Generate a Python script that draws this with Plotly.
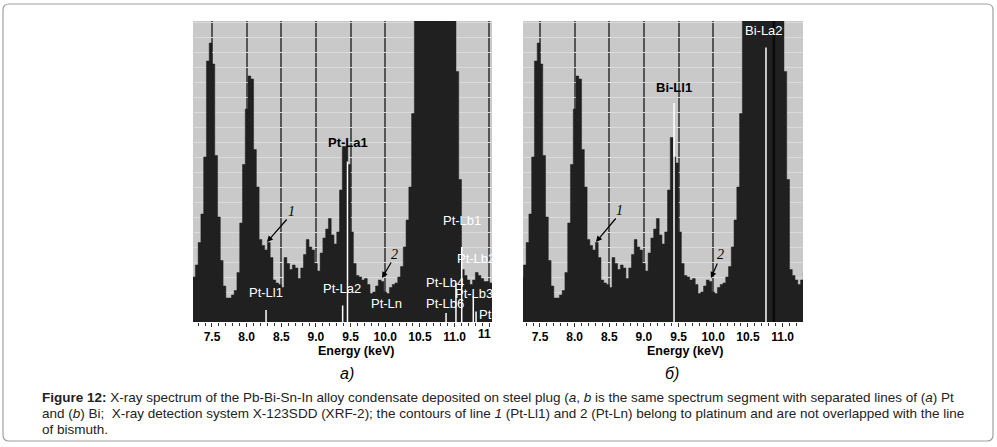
import plotly.graph_objects as go

# ---------------- data ----------------
# channel calibration of the displayed spectrum segment
channel_start_kev = 7.22
channel_width_kev = 0.04

# relative intensity (grid units, 20 = top of the display) per channel, panel б (Bi)
counts_b = [3.0, 3.8, 5.3, 7.2, 11.0, 17.4, 18.6, 17.2, 11.1, 7.0,
            4.1, 2.4, 1.6, 1.6, 1.8, 2.1, 3.3, 6.6, 10.5, 14.2,
            16.4, 16.2, 11.5, 9.0, 5.5, 5.1, 4.8, 5.3, 4.3, 2.8,
            2.6, 2.5, 2.3, 4.3, 3.9, 3.5, 3.8, 3.6, 2.9, 3.6,
            4.5, 5.5, 5.0, 4.8, 3.9, 3.4, 4.6, 5.6, 6.2, 6.9,
            5.8, 5.2, 6.0, 8.8, 12.3, 11.0, 10.6, 6.0, 3.9, 3.1,
            3.0, 2.8, 2.9, 2.5, 1.9, 2.0, 2.4, 2.8, 2.7, 2.0,
            1.9, 2.3, 2.5, 2.6, 3.0, 3.7, 5.0, 6.8, 9.0, 13.9,
            30, 30, 30, 30, 30, 30, 30, 30, 30, 30,
            30, 30, 30, 30, 30, 16.7, 9.5, 3.5, 3.1, 2.8,
            2.5, 2.8, 3.3, 3.1, 2.9, 2.7, 2.7, 2.6]

# panel а (Pt) — same segment, Pt-La1 peak drawn lower
counts_a = [3.0, 3.8, 5.3, 7.2, 11.0, 17.4, 18.6, 17.2, 11.1, 7.0,
            4.1, 2.4, 1.6, 1.6, 1.8, 2.1, 3.3, 6.6, 10.5, 14.2,
            16.4, 16.2, 11.5, 9.0, 5.5, 5.1, 4.8, 5.3, 4.3, 2.8,
            2.6, 2.5, 2.3, 4.3, 3.9, 3.5, 3.8, 3.6, 2.9, 3.6,
            4.5, 5.5, 5.0, 4.8, 3.9, 3.4, 4.6, 5.6, 6.2, 6.9,
            5.8, 5.2, 6.0, 8.8, 11.7, 11.7, 10.5, 6.0, 3.9, 3.1,
            3.0, 2.8, 2.9, 2.5, 1.9, 2.0, 2.4, 2.8, 2.7, 2.0,
            1.9, 2.3, 2.5, 2.6, 3.0, 3.7, 5.0, 6.8, 9.0, 13.9,
            30, 30, 30, 30, 30, 30, 30, 30, 30, 30,
            30, 30, 30, 30, 30, 16.7, 9.5, 3.5, 3.1, 2.8,
            2.5, 2.8, 3.3, 3.1, 2.9, 2.7, 2.7, 2.6]

tick_values = [7.5, 8.0, 8.5, 9.0, 9.5, 10.0, 10.5, 11.0]
tick_labels = ["7.5", "8.0", "8.5", "9.0", "9.5", "10.0", "10.5", "11.0"]

# line markers: (label, energy keV, marker height)
markers_a = [("Pt-Ll1", 8.28, 0.8), ("Pt-La2", 9.385, 1.1), ("Pt-La1", 9.455, 10.7),
             ("Pt-Lb6", 10.877, 0.6), ("Pt-Lb4", 11.02, 2.6), ("Pt-Lb1", 11.103, 5.0),
             ("Pt-Lb3", 11.27, 1.7), ("Pt-Lb2", 11.31, 0.7)]
markers_b = [("Bi-Ll1", 9.434, 14.6), ("Bi-La2", 10.761, 18.3)]

# ---------------- layout helpers ----------------
W, H = 997, 447


def px(x):
    return x / W


def py(y):
    return 1 - y / H


def step_xy(counts):
    edges = [round(channel_start_kev + channel_width_kev * i, 4) for i in range(len(counts) + 1)]
    return edges, list(counts) + [counts[-1]]


SPEC = "#202020"
BG = "#c9c9c9"
FONT = "Liberation Sans"

fig = go.Figure()
for counts, xa, ya in [(counts_a, "x", "y"), (counts_b, "x2", "y2")]:
    xs, ys = step_xy(counts)
    fig.add_trace(go.Scatter(x=xs, y=ys, xaxis=xa, yaxis=ya, mode="lines",
                             line=dict(shape="hv", color=SPEC, width=0.5),
                             fill="tozeroy", fillcolor=SPEC, hoverinfo="skip"))

ydom = [py(322), py(21)]
common_x = dict(showgrid=True, gridcolor="#555555", gridwidth=2, zeroline=False,
                showline=False, ticks="outside", ticklen=4, tickwidth=1, tickcolor="#333",
                tickfont=dict(family=FONT, size=12, color="black", weight="bold"),
                minor=dict(tickmode="linear", tick0=7.5, dtick=0.1, ticks="outside",
                           ticklen=3, tickcolor="#333", showgrid=False),
                tickmode="array", fixedrange=True)
common_y = dict(domain=ydom, range=[0, 20.07], showgrid=True, gridcolor="#dadada",
                gridwidth=1, dtick=1, tick0=0, showticklabels=False, zeroline=False,
                ticks="", fixedrange=True)

fig.update_layout(
    width=W, height=H, margin=dict(l=0, r=0, t=0, b=0),
    paper_bgcolor="white", plot_bgcolor=BG, showlegend=False,
    xaxis=dict(domain=[px(193), px(492)], range=[7.226, 11.54], anchor="y",
               tickvals=tick_values + [11.5], ticktext=tick_labels + [""], **common_x),
    yaxis=dict(anchor="x", **common_y),
    xaxis2=dict(domain=[px(523), px(803)], range=[7.255, 11.295], anchor="y2",
                tickvals=tick_values, ticktext=tick_labels, **common_x),
    yaxis2=dict(anchor="x2", **common_y),
)

# white marker lines
for name, e, h in markers_a:
    fig.add_shape(type="line", xref="x", yref="y", x0=e, x1=e, y0=0, y1=h,
                  line=dict(color="white", width=1.5))
for name, e, h in markers_b:
    fig.add_shape(type="line", xref="x2", yref="y2", x0=e, x1=e, y0=0, y1=h,
                  line=dict(color="white", width=1.5))
# darker line inside the Bi-La2 peak
fig.add_shape(type="line", xref="x2", yref="y2", x0=10.875, x1=10.875, y0=0, y1=20.07,
              line=dict(color="#0a0a0a", width=2.5))


def txt(text, x, y, size=13, color="white", anchor="center", family=FONT):
    fig.add_annotation(text=text, x=px(x), y=py(y), xref="paper", yref="paper",
                       xanchor=anchor, yanchor="middle", showarrow=False,
                       font=dict(family=family, size=size, color=color))


# panel а labels
txt("<b>Pt-La1</b>", 348, 142, color="black")
txt("Pt-Ll1", 266, 292)
txt("Pt-La2", 342, 288)
txt("Pt-Ln", 386, 303)
txt("Pt-Lb1", 462, 220)
txt("Pt-Lb2", 455, 258, anchor="left")
txt("Pt-Lb4", 445, 282)
txt("Pt-Lb3", 453, 293, anchor="left")
txt("Pt-Lb6", 445, 303)
txt("Pt-", 477, 314, anchor="left")
# panel б labels
txt("<b>Bi-Ll1</b>", 674, 87, color="black")
txt("Bi-La2", 764, 30)

# arrows
for head, tail, lab, labxy in [((267, 242), (288, 218), "1", (291, 211)),
                               ((382, 278), (392, 261), "2", (394, 255)),
                               ((596, 242), (617, 217), "1", (619, 210)),
                               ((711, 278), (718, 262), "2", (720, 255))]:
    fig.add_annotation(text="", x=px(head[0]), y=py(head[1]), xref="paper", yref="paper",
                       ax=tail[0] - head[0], ay=tail[1] - head[1], showarrow=True,
                       arrowhead=2, arrowsize=1, arrowwidth=1.2, arrowcolor="black", standoff=0)
    txt("<i>" + lab + "</i>", labxy[0], labxy[1], size=14, color="black", family="Liberation Serif")

# axis titles / cut tick label
txt("<b>Energy (keV)</b>", 356, 351, size=12.5, color="black")
txt("<b>Energy (keV)</b>", 685, 351, size=12.5, color="black")
txt("<b>11</b>", 492.5, 334, size=12, color="black", anchor="right")

# panel captions
txt("<i>а)</i>", 347, 373, size=16, color="black", family="Liberation Sans Narrow, Liberation Sans")
txt("<i>б)</i>", 672, 373, size=16, color="black", family="Liberation Sans Narrow, Liberation Sans")

cap1 = ("<b>Figure 12:</b> X-ray spectrum of the Pb-Bi-Sn-In alloy condensate deposited on steel plug "
        "(<i>a</i>, <i>b</i> is the same spectrum segment with separated lines of (<i>a</i>) Pt")
cap2 = ("and (<i>b</i>) Bi;&nbsp; X-ray detection system X-123SDD (XRF-2); the contours of line <i>1</i> "
        "(Pt-Ll1) and 2 (Pt-Ln) belong to platinum and are not overlapped with the line")
cap3 = "of bismuth."
for c, y in [(cap1, 397), (cap2, 413), (cap3, 429)]:
    txt(c, 40, y, size=13.5, color="#222", anchor="left")

# rounded frame
x0, y0, x1, y1, r = 3, 4, 993, 441, 6
pts = [("M", x0 + r, y0), ("L", x1 - r, y0), ("Q", x1, y0, x1, y0 + r), ("L", x1, y1 - r),
       ("Q", x1, y1, x1 - r, y1), ("L", x0 + r, y1), ("Q", x0, y1, x0, y1 - r),
       ("L", x0, y0 + r), ("Q", x0, y0, x0 + r, y0)]
path = ""
for p in pts:
    cmd, coords = p[0], p[1:]
    pairs = [f"{px(coords[i]):.5f},{py(coords[i + 1]):.5f}" for i in range(0, len(coords), 2)]
    path += cmd + " " + " ".join(pairs) + " "
path += "Z"
fig.add_shape(type="path", path=path, xref="paper", yref="paper",
              line=dict(color="#a0a0a0", width=1.2))

fig.write_html("out.html", config={"displayModeBar": False, "staticPlot": True},
               post_script="document.body.style.margin='0';document.body.style.overflow='hidden';")
